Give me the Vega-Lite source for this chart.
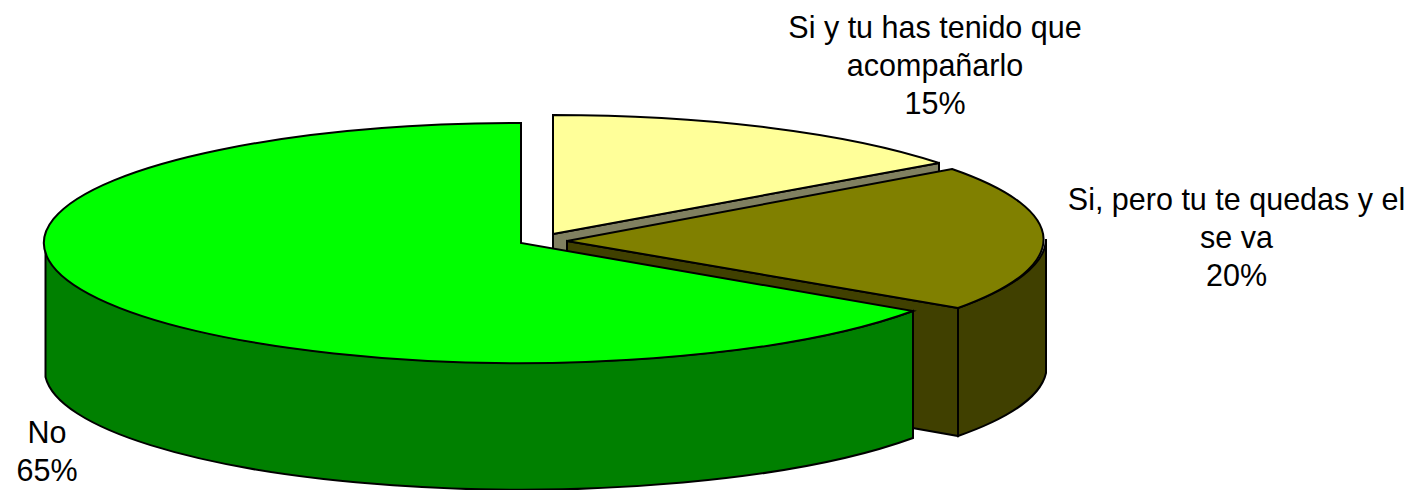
{
  "$schema": "https://vega.github.io/schema/vega-lite/v6.json",
  "width": 1423,
  "height": 490,
  "padding": 0,
  "autosize": {"type": "fit", "contains": "padding"},
  "background": "white",
  "config": {"view": {"stroke": null}},
  "data": {"values": [
    {"answer": "Si y tu has tenido que acompañarlo", "percent": 15, "label": "Si y tu has tenido que\nacompañarlo\n15%"},
    {"answer": "Si, pero tu te quedas y el se va", "percent": 20, "label": "Si, pero tu te quedas y el\nse va\n20%"},
    {"answer": "No", "percent": 65, "label": "No\n65%"}
  ]},
  "resolve": {"scale": {"shape": "independent", "color": "independent"}},
  "layer": [
    {
      "mark": {"type": "point", "filled": true, "size": 4, "opacity": 1, "stroke": "black", "strokeWidth": 2},
      "encoding": {
        "shape": {"field": "answer", "type": "nominal", "legend": null, "scale": {
          "domain": ["Si y tu has tenido que acompañarlo", "Si, pero tu te quedas y el se va", "No"],
          "range": [
            "M-158.5,-7L227.5,-78L227.5,48L-158.5,119Z",
            "M-144.5,0L246.5,67L246.5,195L-144.5,126ZM246.5,67A479,120 0 0 0 334.5,-2L334.5,132A479,120 0 0 1 246.5,195Z",
            "M-666,6A476.5,120 0 0 0 201.5,70L201.5,197A476.5,120 0 0 1 -666,136Z"
          ]
        }},
        "color": {"field": "answer", "type": "nominal", "legend": null, "scale": {
          "domain": ["Si y tu has tenido que acompañarlo", "Si, pero tu te quedas y el se va", "No"],
          "range": ["#808060", "#404000", "#008000"]
        }}
      }
    },
    {
      "mark": {"type": "point", "filled": true, "size": 4, "opacity": 1, "stroke": "black", "strokeWidth": 2},
      "encoding": {
        "shape": {"field": "answer", "type": "nominal", "legend": null, "scale": {
          "domain": ["Si y tu has tenido que acompañarlo", "Si, pero tu te quedas y el se va", "No"],
          "range": [
            "M-158.5,-7L-158.5,-126A482,120 0 0 1 227.5,-78Z",
            "M-144.5,0L240.5,-72A479,120 0 0 1 246.5,67Z",
            "M-190.5,2L-190.5,-118A476.5,120 0 1 0 201.5,70Z"
          ]
        }},
        "color": {"field": "answer", "type": "nominal", "legend": null, "scale": {
          "domain": ["Si y tu has tenido que acompañarlo", "Si, pero tu te quedas y el se va", "No"],
          "range": ["#FFFF99", "#808000", "#00FF00"]
        }}
      }
    },
    {
      "transform": [{"filter": "datum.percent === 15"}],
      "mark": {"type": "text", "font": "Liberation Sans", "fontSize": 30.5, "lineHeight": 38, "lineBreak": "\n", "align": "center", "baseline": "middle", "color": "black", "dx": 223.5, "dy": -212.5},
      "encoding": {"text": {"field": "label", "type": "nominal"}}
    },
    {
      "transform": [{"filter": "datum.percent === 20"}],
      "mark": {"type": "text", "font": "Liberation Sans", "fontSize": 30.5, "lineHeight": 38, "lineBreak": "\n", "align": "center", "baseline": "middle", "color": "black", "dx": 525, "dy": -40.5},
      "encoding": {"text": {"field": "label", "type": "nominal"}}
    },
    {
      "transform": [{"filter": "datum.percent === 65"}],
      "mark": {"type": "text", "font": "Liberation Sans", "fontSize": 30.5, "lineHeight": 38, "lineBreak": "\n", "align": "center", "baseline": "middle", "color": "black", "dx": -664.5, "dy": 193},
      "encoding": {"text": {"field": "label", "type": "nominal"}}
    }
  ]
}
